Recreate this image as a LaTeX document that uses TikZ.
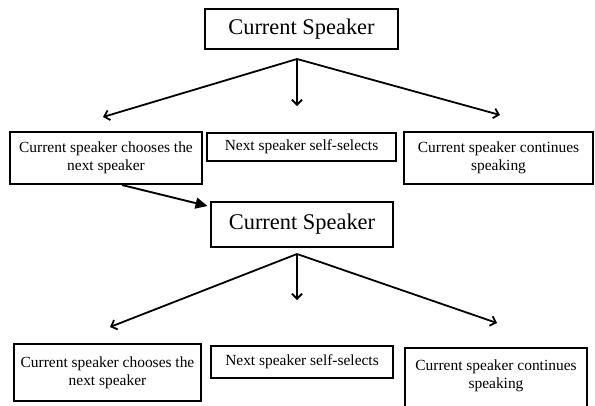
\documentclass[tikz,border=0pt]{standalone}
\usepackage{fontspec}
\setmainfont{Liberation Serif}
\usetikzlibrary{arrows.meta}
\tikzset{
  turnbox/.style={draw,line width=2bp,inner sep=0pt,align=center,font=\fontsize{22.5}{26}\selectfont},
  optbox/.style={draw,line width=2bp,inner sep=0pt,align=center,font=\fontsize{15.5}{18}\selectfont},
  pick/.style={line width=1.8bp,-{Straight Barb[length=5bp,width=10bp]}},
  pass/.style={line width=1.9bp,-{Triangle[length=12bp,width=11bp]}}
}
\begin{document}
\begin{tikzpicture}[x=1bp,y=-1bp]
  \useasboundingbox (0,0) rectangle (595,405);
  % first turn
  \node[turnbox,minimum width=193bp,minimum height=40bp] (T1) at (301.5,29) {Current Speaker};
  \node[optbox,minimum width=192bp,minimum height=52bp] (L1) at (106,158) {Current speaker chooses the\\next speaker};
  \node[optbox,minimum width=189bp,minimum height=28bp] (M1) at (301.5,147) {Next speaker self-selects};
  \node[optbox,minimum width=189bp,minimum height=52bp] (R1) at (498.5,158) {Current speaker continues\\speaking};
  \coordinate (a1) at (297,59);
  \coordinate (l1) at (103,117);
  \coordinate (m1) at (297,106);
  \coordinate (r1) at (500,115);
  \draw[pick] (a1) -- (l1);
  \draw[pick] (a1) -- (m1);
  \draw[pick] (a1) -- (r1);
  % second turn
  \node[turnbox,minimum width=182bp,minimum height=45bp] (T2) at (302,224) {Current Speaker};
  \draw[pass] ([xshift=16bp]L1.south) -- ([xshift=-2.5bp,yshift=-5.5bp]T2.north west);
  \node[optbox,minimum width=187bp,minimum height=57bp] (L2) at (107.5,372.5) {Current speaker chooses the\\next speaker};
  \node[optbox,minimum width=182bp,minimum height=32bp] (M2) at (302,362) {Next speaker self-selects};
  \node[optbox,minimum width=182bp,anchor=north,inner ysep=12bp,text depth=30bp] (R2) at (496,347) {Current speaker continues\\speaking};
  \coordinate (a2) at (297,254);
  \coordinate (l2) at (110,327);
  \coordinate (m2) at (297,300);
  \coordinate (r2) at (497,323);
  \draw[pick] (a2) -- (l2);
  \draw[pick] (a2) -- (m2);
  \draw[pick] (a2) -- (r2);
\end{tikzpicture}
\end{document}
